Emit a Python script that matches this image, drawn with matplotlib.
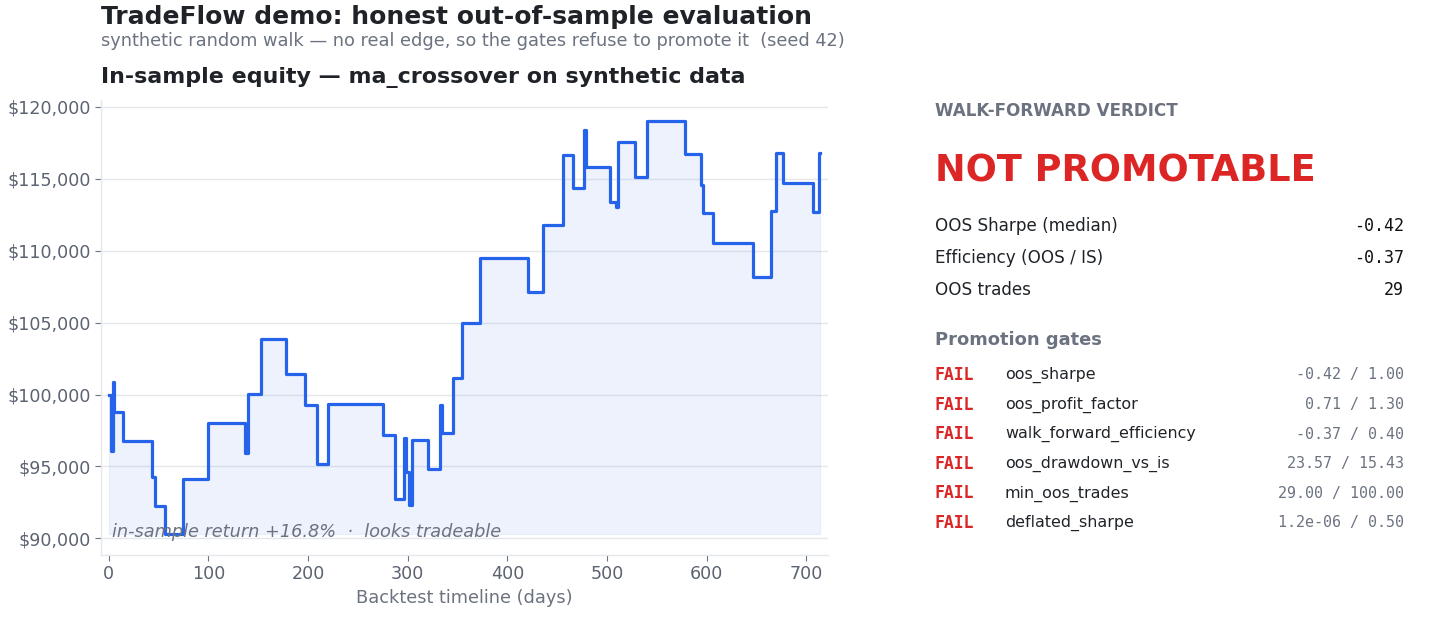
import numpy as np
import matplotlib
matplotlib.use("Agg")
import matplotlib.pyplot as plt
from matplotlib.ticker import FuncFormatter, MultipleLocator

plt.rcParams["font.family"] = "DejaVu Sans"

# equity change points (day, account value)
days = [0, 2, 4, 5, 14, 43, 46, 56, 74, 100, 137, 140, 153, 178, 197, 209,
        220, 275, 287, 296, 298, 301, 304, 320, 332, 334, 345, 355, 373, 421,
        436, 456, 466, 477, 479, 503, 509, 511, 528, 540, 578, 594, 596, 606,
        647, 665, 670, 677, 707, 713, 714]
equity = [100000, 96080, 100880, 98750, 96770, 94270, 92230, 90280, 94100,
          98050, 95960, 100070, 103870, 101410, 99300, 95200, 99370, 97220,
          92760, 97000, 94610, 92300, 96870, 94800, 99250, 97290, 101180,
          104940, 109460, 107120, 111780, 116650, 114330, 118390, 115840,
          113360, 113060, 117580, 115140, 119040, 116700, 114570, 112600,
          110510, 108140, 112760, 116770, 114680, 112670, 116800, 116800]

metric_names = ["OOS Sharpe (median)", "Efficiency (OOS / IS)", "OOS trades"]
metric_values = ["-0.42", "-0.37", "29"]

gate_names = ["oos_sharpe", "oos_profit_factor", "walk_forward_efficiency",
              "oos_drawdown_vs_is", "min_oos_trades", "deflated_sharpe"]
gate_values = ["-0.42 / 1.00", "0.71 / 1.30", "-0.37 / 0.40",
               "23.57 / 15.43", "29.00 / 100.00", "1.2e-06 / 0.50"]
gate_status = ["FAIL"] * 6

BLUE = "#2563eb"
DARK = "#1f2328"
GRAY = "#6b7280"
RED = "#dc2626"
LIGHT = "#e5e7eb"

fig = plt.figure(figsize=(14.4, 6.24), dpi=100)
ax = fig.add_axes([0.0701, 0.1106, 0.5049, 0.7291])

ax.plot(days, equity, drawstyle="steps-post", color=BLUE, linewidth=2.3)
ax.fill_between(days, equity, min(equity), step="post", color=BLUE,
                alpha=0.08, linewidth=0.8)
ax.margins(x=0.011, y=0.05)

ax.yaxis.set_major_locator(MultipleLocator(5000))
ax.yaxis.set_major_formatter(FuncFormatter(lambda v, p: f"${v:,.0f}"))
ax.xaxis.set_major_locator(MultipleLocator(100))
ax.grid(axis="y", color=LIGHT, linewidth=1.0)
ax.set_axisbelow(True)
for s in ["top", "right"]:
    ax.spines[s].set_visible(False)
for s in ["left", "bottom"]:
    ax.spines[s].set_color(LIGHT)
    ax.spines[s].set_linewidth(1.0)
ax.tick_params(colors=GRAY, labelsize=12.6, length=4, width=0.8)
ax.tick_params(axis="both", labelcolor="#5b6270")
ax.set_xlabel("Backtest timeline (days)", fontsize=12.8, color=GRAY, labelpad=4)

ret = equity[-1] / equity[0] - 1
ax.text(0.015, 0.05, f"in-sample return +{ret*100:.1f}%  ·  looks tradeable",
        transform=ax.transAxes, fontsize=12.8, style="italic", color=GRAY,
        va="center", ha="left")

ax.set_title("In-sample equity — ma_crossover on synthetic data", loc="left",
             fontsize=15.9, fontweight="bold", color=DARK, pad=12)

fig.text(0.0701, 0.973, "TradeFlow demo: honest out-of-sample evaluation",
         fontsize=18, fontweight="bold", color=DARK, va="center")
fig.text(0.0701, 0.934,
         "synthetic random walk — no real edge, so the gates refuse to promote it  (seed 42)",
         fontsize=12.8, color=GRAY, va="center")

# verdict panel
px0 = 935 / 1440
px1 = 1404 / 1440


def fy(y):
    return 1 - y / 624


fig.text(px0, fy(111), "WALK-FORWARD VERDICT", fontsize=12.1,
         fontweight="bold", color=GRAY, va="center")
fig.text(px0, fy(171), "NOT PROMOTABLE", fontsize=26.4, fontweight="bold",
         color=RED, va="center")

for i, (n, v) in enumerate(zip(metric_names, metric_values)):
    y = fy(226 + 32 * i)
    fig.text(px0, y, n, fontsize=12.1, color=DARK, va="center")
    fig.text(px1, y, v, fontsize=12, color="#111111", va="center",
             ha="right", family="DejaVu Sans Mono")

fig.text(px0, fy(340), "Promotion gates", fontsize=12.9, fontweight="bold",
         color=GRAY, va="center")

for i, (st, n, v) in enumerate(zip(gate_status, gate_names, gate_values)):
    y = fy(375 + 29.6 * i)
    fig.text(px0, y, st, fontsize=11.9, color=RED, fontweight="bold",
             va="center", family="DejaVu Sans Mono")
    fig.text(1005 / 1440, y, n, fontsize=11.4, color=DARK, va="center")
    fig.text(px1, y, v, fontsize=10.8, color=GRAY, va="center", ha="right",
             family="DejaVu Sans Mono")

fig.savefig("out.png", dpi=100, facecolor="white")
